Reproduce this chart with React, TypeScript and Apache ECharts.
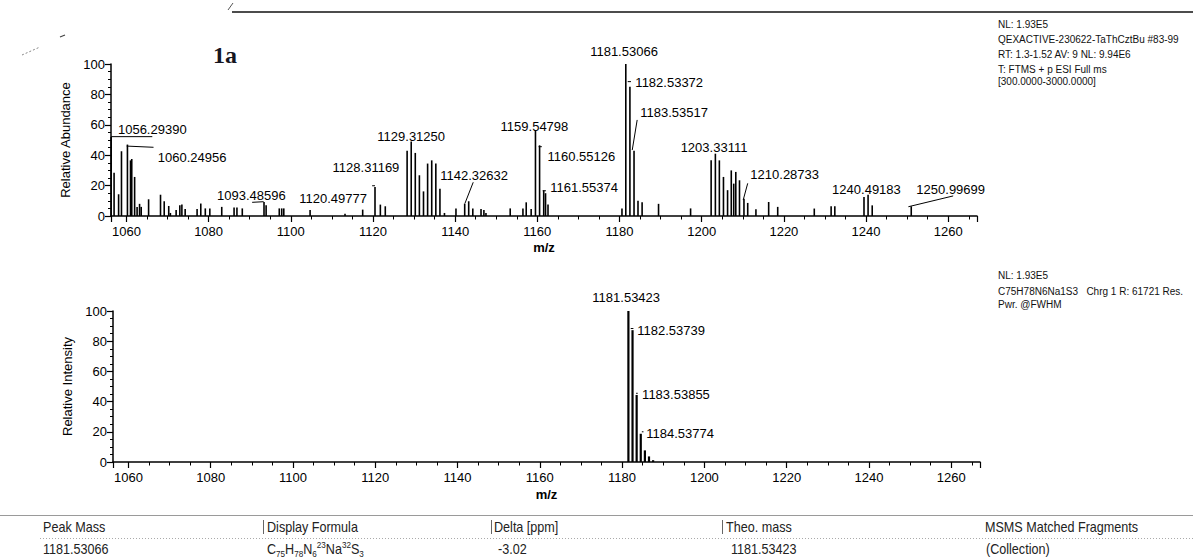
import React, { useEffect, useRef } from "react";
import * as echarts from "echarts";

const FONT = '"Liberation Sans", Arial, Helvetica, sans-serif';
const SERIF = '"Liberation Serif", "Times New Roman", serif';

// ---- measured spectrum (top): [m/z, relative abundance %]
const measuredPeaks: [number, number][] = [
  [1056.2939, 52], [1057.0, 28.5], [1058.1, 14.3], [1058.8, 42.6], [1060.24956, 47],
  [1061.0, 36.6], [1061.3, 37.5], [1062.0, 25.7], [1062.6, 6], [1063.2, 8], [1063.6, 6],
  [1065.4, 11], [1068.3, 14], [1069.2, 9.7], [1070.3, 6.6], [1070.7, 2], [1072.1, 4],
  [1073.0, 7], [1073.5, 7.5], [1074.3, 4.6], [1077.2, 4.6], [1078.1, 8.2], [1079.2, 5],
  [1080.3, 5], [1083.2, 6], [1086.2, 5.6], [1086.9, 5.6], [1088.2, 5], [1093.48596, 9.2],
  [1094.0, 7], [1097.2, 5], [1097.8, 5], [1098.3, 5], [1104.7, 4], [1113.2, 1.5],
  [1117.5, 4.2], [1120.49777, 19], [1121.8, 7.5], [1123.0, 6.4], [1128.31169, 43],
  [1129.3125, 49], [1130.3, 41.5], [1131.3, 26.8], [1132.3, 16.2], [1133.3, 34.5],
  [1134.3, 36.6], [1135.3, 34.5], [1136.3, 18], [1137.4, 2], [1140.2, 5],
  [1142.32632, 8.2], [1143.3, 9.7], [1144.3, 5], [1146.3, 4.6], [1147.0, 4], [1147.5, 2],
  [1153.4, 5], [1156.5, 5], [1157.3, 9], [1158.5, 4.6], [1159.54798, 56.4],
  [1160.55126, 46.5], [1161.55374, 16.9], [1162.0, 15], [1162.6, 7.5], [1180.6, 5],
  [1181.53066, 100], [1182.53372, 85], [1183.53517, 43], [1184.5, 10], [1185.5, 9],
  [1189.5, 8], [1197.3, 5], [1202.3, 36.6], [1203.33111, 41], [1204.3, 36.6],
  [1205.3, 25.7], [1206.3, 17], [1207.2, 30], [1207.8, 21.3], [1208.3, 29],
  [1209.2, 23.5], [1210.28733, 11.4], [1211.2, 8.6], [1213.2, 4.4], [1216.3, 9.2],
  [1218.5, 6], [1227.4, 4.9], [1231.5, 6.4], [1232.4, 6.4], [1239.5, 12.5],
  [1240.49183, 14], [1241.5, 7], [1250.99699, 6.4],
];

// peak annotations: [text, m/z of label centre, abundance of label centre]
const measuredLabels: [string, number, number][] = [
  ["1056.29390", 1066.3, 57.0], ["1060.24956", 1076.0, 38.4], ["1093.48596", 1090.4, 13.4],
  ["1120.49777", 1110.3, 11.6], ["1128.31169", 1118.3, 32.2], ["1129.31250", 1129.3, 52.0],
  ["1142.32632", 1144.6, 26.5], ["1159.54798", 1159.3, 59.2], ["1160.55126", 1170.7, 39.0],
  ["1161.55374", 1171.4, 18.9], ["1181.53066", 1181.1, 108.1], ["1182.53372", 1192.1, 88.0],
  ["1183.53517", 1193.3, 68.0], ["1203.33111", 1203.0, 44.9], ["1210.28733", 1220.2, 27.0],
  ["1240.49183", 1240.1, 17.6], ["1250.99699", 1260.6, 17.6],
];

// leader lines: [m/z1, y1, m/z2, y2]
const measuredLeaders: [number, number, number, number][] = [
  [1056.29, 52.2, 1066.3, 52.2], [1060.07, 46.0, 1066.6, 45.2], [1090.6, 9.0, 1093.4, 9.4],
  [1142.4, 8.4, 1144.4, 22.2], [1183.1, 43.4, 1184.3, 63.2], [1210.1, 10.5, 1211.2, 21.5],
  [1250.3, 6.1, 1261.2, 13.2], [1119.8, 19.9, 1120.5, 19.9], [1160.3, 45.6, 1161.1, 45.6],
  [1161.3, 16.6, 1162.1, 16.6], [1182.0, 88.4, 1182.8, 88.4],
];

// ---- simulated isotope pattern (bottom): [m/z, relative intensity %]
const theoPeaks: [number, number][] = [
  [1181.53423, 100], [1182.53739, 87.3], [1183.53855, 44.4], [1184.53774, 18.7],
  [1185.54, 7.7], [1186.54, 3.7], [1187.54, 1.2],
];
const theoLabels: [string, number, number][] = [
  ["1181.53423", 1181.0, 108.8], ["1182.53739", 1191.9, 87.3],
  ["1183.53855", 1193.1, 44.4], ["1184.53774", 1194.1, 18.7],
];
const theoLeaders: [number, number, number, number][] = [
  [1182.1, 88.4, 1182.75, 88.4], [1183.4, 45.5, 1183.8, 45.5], [1184.8, 20.0, 1185.2, 20.0],
];

const xRange = [1056.25, 1267];
const yTicks = { min: 0, max: 100, step: 20 };

const measuredInfo = [
  "NL: 1.93E5",
  "QEXACTIVE-230622-TaThCztBu #83-99",
  "RT: 1.3-1.52 AV: 9 NL: 9.94E6",
  "T: FTMS + p ESI Full ms",
  "[300.0000-3000.0000]",
];
const theoInfo = ["NL: 1.93E5", "C75H78N6Na1S3   Chrg 1 R: 61721 Res.", "Pwr. @FWHM"];

const tableHeaders = ["Peak Mass", "Display Formula", "Delta [ppm]", "Theo. mass", "MSMS Matched Fragments"];
const tableRow = ["1181.53066", "FORMULA", "-3.02", "1181.53423", "(Collection)"];

function peakSeries(data: [number, number][], idx: number, width: number) {
  return {
    type: "custom",
    xAxisIndex: idx,
    yAxisIndex: idx,
    clip: false,
    silent: true,
    data,
    renderItem: (params: any, api: any) => {
      const x = api.value(0);
      const y = api.value(1);
      const a = api.coord([x, 0]);
      const b = api.coord([x, y]);
      return {
        type: "line",
        shape: { x1: a[0], y1: a[1], x2: b[0], y2: b[1] },
        style: { stroke: "#000", lineWidth: width },
      };
    },
  };
}

function labelSeries(labels: [string, number, number][], idx: number) {
  return {
    type: "custom",
    xAxisIndex: idx,
    yAxisIndex: idx,
    clip: false,
    silent: true,
    data: labels.map((l) => [l[1], l[2]]),
    renderItem: (params: any, api: any) => {
      const p = api.coord([api.value(0), api.value(1)]);
      return {
        type: "text",
        x: p[0],
        y: p[1],
        style: {
          text: labels[params.dataIndex][0],
          fill: "#000",
          font: `13px ${FONT}`,
          textAlign: "center",
          textVerticalAlign: "middle",
          align: "center",
          verticalAlign: "middle",
        },
      };
    },
  };
}

function leaderSeries(lines: [number, number, number, number][], idx: number) {
  return {
    type: "custom",
    xAxisIndex: idx,
    yAxisIndex: idx,
    clip: false,
    silent: true,
    data: lines,
    renderItem: (params: any, api: any) => {
      const a = api.coord([api.value(0), api.value(1)]);
      const b = api.coord([api.value(2), api.value(3)]);
      return {
        type: "line",
        shape: { x1: a[0], y1: a[1], x2: b[0], y2: b[1] },
        style: { stroke: "#000", lineWidth: 1 },
      };
    },
  };
}

function xAxis(idx: number, nameGap: number) {
  return {
    type: "value",
    gridIndex: idx,
    min: xRange[0],
    max: xRange[1],
    splitNumber: 10,
    name: "m/z",
    nameLocation: "middle",
    nameGap,
    nameTextStyle: { color: "#000", fontFamily: FONT, fontSize: 13, fontWeight: "bold" },
    axisLine: { show: true, onZero: false, lineStyle: { color: "#000", width: 1.5 } },
    axisTick: { show: true, length: 6, lineStyle: { color: "#000", width: 1.2 } },
    minorTick: { show: true, splitNumber: 4, length: 3.5, lineStyle: { color: "#000", width: 1 } },
    axisLabel: {
      showMinLabel: false,
      showMaxLabel: false,
      color: "#000",
      fontFamily: FONT,
      fontSize: 13,
      margin: 9,
      formatter: (v: number) => String(Math.round(v)),
    },
    splitLine: { show: false },
    minorSplitLine: { show: false },
  };
}

function yAxis(idx: number, name: string) {
  return {
    type: "value",
    gridIndex: idx,
    min: yTicks.min,
    max: yTicks.max,
    interval: yTicks.step,
    name,
    nameLocation: "middle",
    nameGap: 38,
    nameTextStyle: { color: "#000", fontFamily: FONT, fontSize: 13 },
    axisLine: { show: true, lineStyle: { color: "#000", width: 1.5 } },
    axisTick: { show: true, length: 6, lineStyle: { color: "#000", width: 1.2 } },
    minorTick: { show: true, splitNumber: 4, length: 3, lineStyle: { color: "#000", width: 1 } },
    axisLabel: { color: "#000", fontFamily: FONT, fontSize: 13, margin: 6 },
    splitLine: { show: false },
    minorSplitLine: { show: false },
  };
}

function txt(x: number, y: number, text: string, font: string, extra: any = {}) {
  return {
    type: "text",
    x,
    y,
    silent: true,
    ...extra,
    style: {
      text,
      fill: "#111",
      font,
      textAlign: "left",
      textVerticalAlign: "middle",
      align: "left",
      verticalAlign: "middle",
      ...(extra.style || {}),
    },
  };
}

export default function App() {
  const ref = useRef<HTMLDivElement>(null);

  useEffect(() => {
    if (!ref.current) return;
    const chart = echarts.init(ref.current, null, { renderer: "svg" });

    const infoFont = `10px ${FONT}`;
    const tableFont = `14px ${FONT}`;
    const tableCols = [43, 267, 494, 726, 985];
    const graphics: any[] = [];

    // header remnants
    graphics.push({ type: "line", silent: true, shape: { x1: 232, y1: 12, x2: 1193, y2: 12 }, style: { stroke: "#111", lineWidth: 1.6 } });
    graphics.push({ type: "line", silent: true, shape: { x1: 228, y1: 10, x2: 233, y2: 3 }, style: { stroke: "#555", lineWidth: 1 } });
    graphics.push({ type: "line", silent: true, shape: { x1: 22, y1: 55, x2: 40, y2: 47 }, style: { stroke: "#888", lineWidth: 1, lineDash: [2, 2] } });
    graphics.push({ type: "line", silent: true, shape: { x1: 60, y1: 37, x2: 65, y2: 35 }, style: { stroke: "#444", lineWidth: 1.2 } });

    // panel tag
    graphics.push(txt(213, 55, "1a", `bold 24px ${SERIF}`, { style: { fill: "#15151f" } }));

    // info blocks
    const infoY = [24, 39.5, 54.5, 69.5, 81.5];
    measuredInfo.forEach((t, i) => graphics.push(txt(998, infoY[i], t, infoFont)));
    const theoY = [275, 291, 304];
    theoInfo.forEach((t, i) => graphics.push(txt(998, theoY[i], t, infoFont)));

    // table
    graphics.push({ type: "line", silent: true, shape: { x1: 0, y1: 515.5, x2: 1193, y2: 515.5 }, style: { stroke: "#9a9a9a", lineWidth: 1 } });
    graphics.push({ type: "line", silent: true, shape: { x1: 40, y1: 538.5, x2: 1193, y2: 538.5 }, style: { stroke: "#aaa", lineWidth: 1, lineDash: [1, 2] } });
    [263, 491, 722].forEach((x) =>
      graphics.push({ type: "line", silent: true, shape: { x1: x + 0.5, y1: 520, x2: x + 0.5, y2: 534 }, style: { stroke: "#666", lineWidth: 1 } })
    );
    tableHeaders.forEach((t, i) =>
      graphics.push(txt(tableCols[i], 527, t, tableFont, { scaleX: 0.9, style: { fill: "#222" } }))
    );
    const rowCols = [43, 267, 498, 731, 986];
    tableRow.forEach((t, i) => {
      if (t === "FORMULA") {
        graphics.push({
          type: "text",
          x: rowCols[i],
          y: 549,
          scaleX: 0.9,
          silent: true,
          style: {
            text: "{b|C}{s|75}{b|H}{s|78}{b|N}{s|6}{p|23}{b|Na}{p|32}{b|S}{s|3}",
            fill: "#222",
            font: tableFont,
            textAlign: "left",
            textVerticalAlign: "middle",
            align: "left",
            verticalAlign: "middle",
            rich: {
              b: { fontFamily: FONT, fontSize: 14, lineHeight: 18, fill: "#222", color: "#222" },
              s: { fontFamily: FONT, fontSize: 9, lineHeight: 10, verticalAlign: "bottom", fill: "#222", color: "#222" },
              p: { fontFamily: FONT, fontSize: 9, lineHeight: 10, verticalAlign: "top", fill: "#222", color: "#222" },
            },
          },
        });
      } else {
        graphics.push(txt(rowCols[i], 549, t, tableFont, { scaleX: 0.9, style: { fill: "#222" } }));
      }
    });

    chart.setOption({
      animation: false,
      backgroundColor: "#fff",
      grid: [
        { left: 111, top: 64, width: 866, height: 152 },
        { left: 113, top: 311, width: 867, height: 151 },
      ],
      xAxis: [xAxis(0, 25), xAxis(1, 26)],
      yAxis: [yAxis(0, "Relative Abundance"), yAxis(1, "Relative Intensity")],
      series: [
        peakSeries(measuredPeaks, 0, 1.6),
        leaderSeries(measuredLeaders, 0),
        labelSeries(measuredLabels, 0),
        peakSeries(theoPeaks, 1, 2.2),
        leaderSeries(theoLeaders, 1),
        labelSeries(theoLabels, 1),
      ],
      graphic: graphics,
    });

    return () => chart.dispose();
  }, []);

  return (
    <div
      ref={ref}
      style={{ position: "absolute", left: 0, top: 0, width: 1193, height: 558, background: "#fff" }}
    />
  );
}
